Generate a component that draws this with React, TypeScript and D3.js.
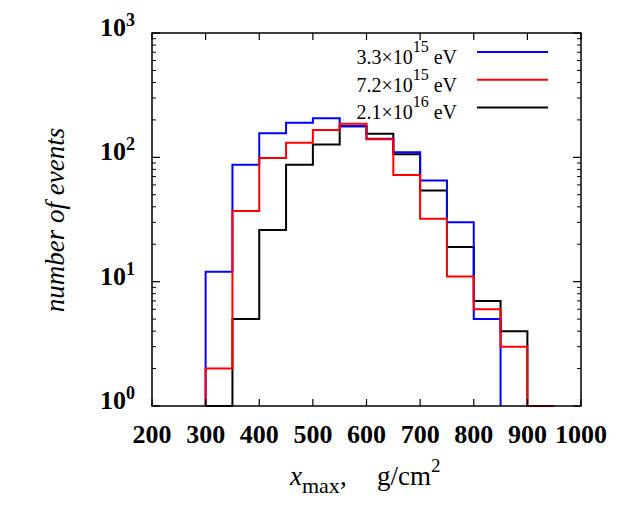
import React from 'react'
import * as d3 from 'd3'

// bin edges start at 300 g/cm2, 50 wide
const binStart = 300
const binWidth = 50

const blueCounts = [12, 87, 156, 190, 206, 178, 141, 110, 65, 30, 5]
const redCounts = [2, 37, 99, 131, 166, 186, 140, 72, 32, 11, 6, 3, 0]
const blackCounts = [0, 5, 26, 87, 127, 178, 155, 106, 54, 19, 7, 4, 0]

const seriesNames = ['3.3', '7.2', '2.1']
const seriesExps = ['15', '15', '16']
const seriesColors = ['#0000ff', '#ff0000', '#000000']

const xTicks = [200, 300, 400, 500, 600, 700, 800, 900, 1000]
const yTicks = [1, 10, 100, 1000]
const yTickExps = ['0', '1', '2', '3']

const W = 623
const H = 523
const left = 152
const right = 581
const top = 33
const bottom = 406

const serif = '"Liberation Serif", "Times New Roman", serif'

function stepPath(counts, x, y) {
    let pts = [[x(binStart), y(1)]]
    counts.forEach((c, i) => {
        let v = Math.max(c, 1)
        pts.push([x(binStart + i * binWidth), y(v)])
        pts.push([x(binStart + (i + 1) * binWidth), y(v)])
    })
    pts.push([x(binStart + counts.length * binWidth), y(1)])
    return d3.line()(pts)
}

export default function App() {
    const x = d3.scaleLinear().domain([200, 1000]).range([left, right])
    const y = d3.scaleLog().domain([1, 1000]).range([bottom, top])

    // minor log ticks 2..9 in each decade
    let minor = []
    for (let d = 1; d < 1000; d *= 10) {
        for (let k = 2; k <= 9; k++) minor.push(d * k)
    }

    const series = [
        { counts: blackCounts, color: seriesColors[2] },
        { counts: blueCounts, color: seriesColors[0] },
        { counts: redCounts, color: seriesColors[1] },
    ]

    return (
        <svg width={W} height={H} style={{ position: 'absolute', left: 0, top: 0, background: '#fff' }}
            fontFamily={serif}>
            {series.map((s, i) => (
                <path key={i} d={stepPath(s.counts, x, y)} fill="none" stroke={s.color}
                    strokeWidth={2} />
            ))}

            {/* ticks */}
            {xTicks.map(t => (
                <g key={'x' + t}>
                    <line x1={x(t)} x2={x(t)} y1={bottom} y2={bottom - 7} stroke="#000" strokeWidth={1.2} />
                    <line x1={x(t)} x2={x(t)} y1={top} y2={top + 7} stroke="#000" strokeWidth={1.2} />
                    <text x={x(t)} y={443} textAnchor="middle" fontSize={26} fontWeight="bold">{t}</text>
                </g>
            ))}
            {yTicks.map((t, i) => (
                <g key={'y' + t}>
                    <line x1={left} x2={left + 8} y1={y(t)} y2={y(t)} stroke="#000" strokeWidth={1.2} />
                    <line x1={right} x2={right - 8} y1={y(t)} y2={y(t)} stroke="#000" strokeWidth={1.2} />
                    <text x={135} y={y(t) + 3} textAnchor="end" fontSize={26} fontWeight="bold">
                        10<tspan dy={-10} fontSize={18}>{yTickExps[i]}</tspan>
                    </text>
                </g>
            ))}
            {minor.map(t => (
                <g key={'m' + t}>
                    <line x1={left} x2={left + 4} y1={y(t)} y2={y(t)} stroke="#000" strokeWidth={1} />
                    <line x1={right} x2={right - 4} y1={y(t)} y2={y(t)} stroke="#000" strokeWidth={1} />
                </g>
            ))}

            <rect x={left} y={top} width={right - left} height={bottom - top} fill="none"
                stroke="#000" strokeWidth={1.5} />

            {/* legend */}
            {seriesNames.map((n, i) => (
                <g key={'l' + i}>
                    <text x={457} y={64 + i * 27.7} textAnchor="end" fontSize={20}>
                        {n}×10<tspan dy={-12} fontSize={16}>{seriesExps[i]}</tspan>
                        <tspan dy={12}>{'\u00a0eV'}</tspan>
                    </text>
                    <line x1={477} x2={548} y1={52 + i * 27.7} y2={52 + i * 27.7}
                        stroke={seriesColors[i]} strokeWidth={2} />
                </g>
            ))}

            {/* axis titles */}
            <text transform="translate(64,220) rotate(-90)" textAnchor="middle" fontSize={27}
                fontStyle="italic">number of events</text>
            <text x={290} y={485} fontSize={27}>
                <tspan fontStyle="italic">x</tspan>
                <tspan dy={8} fontSize={22}>max</tspan>
                <tspan dy={-8}>,</tspan>
                <tspan x={377}>g/cm</tspan>
                <tspan dy={-13} fontSize={19}>2</tspan>
            </text>
        </svg>
    )
}
